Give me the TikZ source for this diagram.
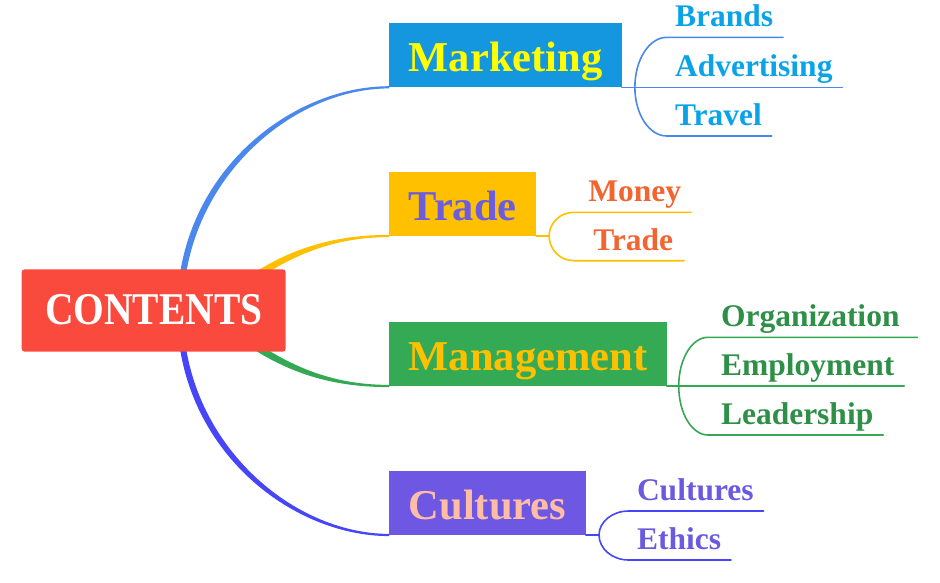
\documentclass[tikz,border=0pt]{standalone}
\usepackage{fontspec}
\usepackage{graphicx}
\setmainfont{Liberation Serif}
\usetikzlibrary{calc,backgrounds}
\definecolor{rootred}{HTML}{F94A3D}
\definecolor{mkbox}{HTML}{1597E0}
\definecolor{mktext}{HTML}{FFFF00}
\definecolor{mkline}{HTML}{4A88EE}
\definecolor{mkchild}{HTML}{0AA3E8}
\definecolor{trbox}{HTML}{FFC000}
\definecolor{trtext}{HTML}{6C5CE0}
\definecolor{trline}{HTML}{FFC000}
\definecolor{trchild}{HTML}{F26430}
\definecolor{mgbox}{HTML}{35AA54}
\definecolor{mgtext}{HTML}{FFC000}
\definecolor{mgline}{HTML}{34A853}
\definecolor{mgchild}{HTML}{2E8F47}
\definecolor{cubox}{HTML}{6D57E3}
\definecolor{cutext}{HTML}{FFBDA5}
\definecolor{culine}{HTML}{4646F8}
\definecolor{cuchild}{HTML}{6A5AE0}
\begin{document}
\begin{tikzpicture}[x=1pt,y=-1pt,
  rootbox/.style={fill=rootred, rounded corners=3pt, inner sep=0pt, outer sep=0pt,
    minimum width=264pt, text height=54.7pt, text depth=27.7pt, text=white,
    font=\fontsize{39.5}{39.5}\selectfont\bfseries},
  titlebox/.style={anchor=south west, inner xsep=19.5pt, inner ysep=0pt, outer sep=0pt,
    text height=48pt, text depth=16pt, font=\fontsize{42.5}{42.5}\selectfont\bfseries},
  leaf/.style={anchor=base west, inner sep=0pt, outer sep=0pt, text depth=10.5pt,
    font=\fontsize{31.5}{31.5}\selectfont\bfseries},
  thin/.style={line width=1.6pt, line cap=round}]
\useasboundingbox (0,0) rectangle (940,582);

% central node
\node[rootbox] (root) at (153.7,310.5) {\scalebox{1}[1.15]{CONTENTS}};

% main topics
\node[titlebox, fill=mkbox, text=mktext] (mkt) at (389.3,87.3) {Marketing};
\node[titlebox, fill=trbox, text=trtext] (trd) at (389.3,236) {Trade};
\node[titlebox, fill=mgbox, text=mgtext] (mgt) at (389.3,386) {Management};
\node[titlebox, fill=cubox, text=cutext] (cul) at (389.3,535) {Cultures};

% leaves
\node[leaf, text=mkchild] (brands) at (675,26.8) {Brands};
\node[leaf, text=mkchild] (adv) at (675,76.8) {Advertising};
\node[leaf, text=mkchild] (travel) at (675,125.5) {Travel};

\node[leaf, text=trchild] (money) at (588.3,201.8) {Money};
\node[leaf, text=trchild] (trade2) at (593.3,250.2) {Trade};

\node[leaf, text=mgchild] (org) at (721,326.8) {Organization};
\node[leaf, text=mgchild] (emp) at (721,375.5) {Employment};
\node[leaf, text=mgchild] (lead) at (721,424.5) {Leadership};

\node[leaf, text=cuchild] (cult2) at (637,500.5) {Cultures};
\node[leaf, text=cuchild] (eth) at (637,549.5) {Ethics};

% hidden hubs behind the central node
\coordinate (hubL) at ($(root.center)+(26.3,0.5)$);
\coordinate (hubT) at ($(root.center)+(80,-19)$);
\coordinate (hubB) at ($(root.center)+(80,20.5)$);

\begin{pgfonlayer}{background}
% tapered connectors
\fill[mkline] ($(hubL)+(-3,0)$) .. controls +(0,-136) and +(-100,0) ..
  ($(mkt.south west)+(0,-1.1)$) -- ($(mkt.south west)+(0,1.1)$)
  .. controls +(-98,0) and +(0,-130) .. ($(hubL)+(3,0)$) -- cycle;
\fill[culine] ($(hubL)+(-3,0)$) .. controls +(0,136) and +(-100,0) ..
  ($(cul.south west)+(0,1.1)$) -- ($(cul.south west)+(0,-1.1)$)
  .. controls +(-98,0) and +(0,130) .. ($(hubL)+(3,0)$) -- cycle;
\fill[trline] ($(hubT)+(-2.2,-3)$) .. controls +(50,-38) and +(-60,0) ..
  ($(trd.south west)+(0,-1.1)$) -- ($(trd.south west)+(0,1.1)$)
  .. controls +(-58,0) and +(50,-38) .. ($(hubT)+(2.2,3)$) -- cycle;
\fill[mgline] ($(hubB)+(-2.2,3)$) .. controls +(50,38) and +(-60,0) ..
  ($(mgt.south west)+(0,1.1)$) -- ($(mgt.south west)+(0,-1.1)$)
  .. controls +(-58,0) and +(50,38) .. ($(hubB)+(2.2,-3)$) -- cycle;
\end{pgfonlayer}

% Marketing bracket
\coordinate (mJ) at ($(mkt.south east)+(13,0)$);
\coordinate (mT) at ($(mJ)+(32,-50)$);
\coordinate (mB) at ($(mJ)+(32,48.7)$);
\draw[thin, mkline] (mkt.south east) -- ([xshift=10pt]adv.south east);
\draw[thin, mkline] (mJ) .. controls +(0,-27.6) and +(-17.7,0) .. (mT) -- ([xshift=10pt]brands.south east);
\draw[thin, mkline] (mJ) .. controls +(0,26.9) and +(-17.7,0) .. (mB) -- ([xshift=10pt]travel.south east);

% Trade bracket
\coordinate (tJ) at ($(trd.south east)+(13,0)$);
\coordinate (tT) at ($(tJ)+(24.7,-23.7)$);
\coordinate (tB) at ($(tJ)+(24.7,24.7)$);
\draw[thin, trline] (trd.south east) -- (tJ);
\draw[thin, trline] (tJ) .. controls +(0,-13.1) and +(-13.6,0) .. (tT) -- ([xshift=10pt]money.south east);
\draw[thin, trline] (tJ) .. controls +(0,13.6) and +(-13.6,0) .. (tB) -- ([xshift=11pt]trade2.south east);

% Management bracket
\coordinate (gJ) at ($(mgt.south east)+(12,0)$);
\coordinate (gT) at ($(gJ)+(29.3,-48.7)$);
\coordinate (gB) at ($(gJ)+(29.3,49)$);
\draw[thin, mgline] (mgt.south east) -- ([xshift=10pt]emp.south east);
\draw[thin, mgline] (gJ) .. controls +(0,-26.9) and +(-16.2,0) .. (gT) -- ([xshift=18pt]org.south east);
\draw[thin, mgline] (gJ) .. controls +(0,27.1) and +(-16.2,0) .. (gB) -- ([xshift=10pt]lead.south east);

% Cultures bracket
\coordinate (cJ) at ($(cul.south east)+(13.3,0)$);
\coordinate (cT) at ($(cJ)+(29.7,-24)$);
\coordinate (cB) at ($(cJ)+(29.7,25)$);
\draw[thin, culine] (cul.south east) -- (cJ);
\draw[thin, culine] (cJ) .. controls +(0,-13.3) and +(-16.4,0) .. (cT) -- ([xshift=10pt]cult2.south east);
\draw[thin, culine] (cJ) .. controls +(0,13.8) and +(-16.4,0) .. (cB) -- ([xshift=10pt]eth.south east);
\end{tikzpicture}
\end{document}
